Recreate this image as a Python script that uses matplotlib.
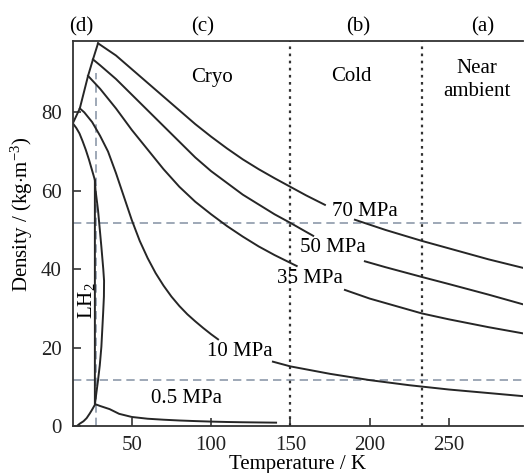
import numpy as np
import matplotlib
matplotlib.use('Agg')
import matplotlib.pyplot as plt

plt.rcParams['font.family'] = ['Liberation Serif', 'DejaVu Serif']
plt.rcParams['mathtext.fontset'] = 'custom'
plt.rcParams['mathtext.rm'] = 'Liberation Serif'
plt.rcParams['mathtext.it'] = 'Liberation Serif:italic'
plt.rcParams['mathtext.default'] = 'rm'

# melting line (left boundary)
melt_T = [12.8, 17.2, 22.4, 25.5, 28.7]
melt_rho = [77.2, 81.0, 89.3, 93.5, 97.6]

# saturation dome (liquid branch down, vapour branch back)
dome_T = [12.8, 15, 17, 19, 21, 23, 24.5, 25.8, 26.7, 27.1, 28.7, 30.8, 32.0, 32.5, 32.4,
          31.9, 30.8, 29.8, 28.7, 27.6, 26.7, 25.0, 23.5, 21.5, 19.5, 17.2, 16.0]
dome_rho = [77.2, 76.0, 74.6, 72.6, 70.4, 67.9, 65.8, 64.0, 62.7, 60.2, 55.0, 45.7, 40.0, 37.0, 33.0,
            28.7, 20.2, 15.5, 11.7, 8.3, 5.4, 4.2, 3.2, 2.0, 1.2, 0.6, 0.2]

# 0.5 MPa isobar
p05_T = [26.7, 26.7, 30, 36, 42, 50, 60, 70, 80, 90, 100, 110, 120, 130, 141]
p05_rho = [62.7, 5.6, 5.1, 4.3, 3.1, 2.3, 1.85, 1.6, 1.4, 1.25, 1.12, 1.02, 0.95, 0.9, 0.85]

# 10 MPa isobar (two pieces around label)
p10_T1 = [17.2, 20, 25, 30, 35, 40, 45, 50, 55, 60, 65, 70, 75, 80, 85, 90, 95, 100, 104.4]
p10_rho1 = [81.0, 80.0, 77.5, 74.0, 70.0, 64.5, 58.5, 52.5, 47.2, 42.8, 39.0, 35.8, 33.0, 30.6,
            28.5, 26.7, 25.0, 23.4, 22.1]
p10_T2 = [139, 150, 175, 200, 225, 250, 275, 297]
p10_rho2 = [16.4, 15.2, 13.3, 11.7, 10.4, 9.3, 8.4, 7.6]

# 35 MPa isobar
p35_T1 = [22.4, 30, 40, 50, 60, 70, 80, 90, 100, 110, 120, 130, 140, 150, 154]
p35_rho1 = [89.3, 86.0, 81.0, 75.5, 70.5, 65.5, 61.0, 57.2, 54.0, 51.0, 48.3, 45.8, 43.6, 41.6, 40.8]
p35_T2 = [184.4, 200, 233, 250, 275, 297]
p35_rho2 = [34.7, 32.5, 28.7, 27.2, 25.2, 23.6]

# 50 MPa isobar
p50_T1 = [25.5, 30, 40, 50, 60, 70, 80, 90, 100, 110, 120, 130, 140, 150, 160, 164.4]
p50_rho1 = [93.5, 92.0, 88.5, 84.5, 80.5, 76.5, 72.5, 68.5, 65.0, 62.0, 59.0, 56.5, 54.0, 51.8,
            49.5, 48.5]
p50_T2 = [197, 210, 233, 250, 275, 297]
p50_rho2 = [42.0, 40.5, 38.0, 36.2, 33.5, 31.0]

# 70 MPa isobar
p70_T1 = [28.7, 40, 50, 60, 70, 80, 90, 100, 110, 120, 130, 140, 150, 160, 171.8]
p70_rho1 = [97.6, 94.5, 91.0, 87.5, 84.0, 80.5, 77.0, 73.8, 70.8, 68.0, 65.5, 63.2, 61.0, 58.8, 56.4]
p70_T2 = [190.7, 210, 233, 250, 275, 297]
p70_rho2 = [52.6, 50.0, 47.2, 45.3, 42.5, 40.3]

region_T = [150, 233]
ref_rho = [51.7, 11.7]
ref_T = 27.3

fig = plt.figure(figsize=(5.24, 4.73), dpi=100)
ax = fig.add_axes([0.139, 0.0994, 0.859, 0.814])

lc = '#262626'
lw = 1.4
dash_c = '#8d9aaa'

for r in ref_rho:
    ax.axhline(r, color=dash_c, lw=1.2, ls=(0, (5, 3)), zorder=1)
ax.plot([ref_T, ref_T], [0, 90], color=dash_c, lw=1.2, ls=(0, (5, 3)), zorder=1)
for t in region_T:
    ax.axvline(t, color='#333333', lw=1.6, ls=(0, (1.2, 2.0)), zorder=1)

ax.plot(melt_T, melt_rho, color=lc, lw=lw)
ax.plot(dome_T, dome_rho, color=lc, lw=lw)
ax.plot(p05_T, p05_rho, color=lc, lw=lw)
for T, rho in [(p10_T1, p10_rho1), (p10_T2, p10_rho2), (p35_T1, p35_rho1), (p35_T2, p35_rho2),
               (p50_T1, p50_rho1), (p50_T2, p50_rho2), (p70_T1, p70_rho1), (p70_T2, p70_rho2)]:
    ax.plot(T, rho, color=lc, lw=lw)

fs = 15
ax.text(197, 54.8, '70 MPa', fontsize=fs, ha='center', va='center')
ax.text(176.8, 45.4, '50 MPa', fontsize=fs, ha='center', va='center')
ax.text(162.3, 37.7, '35 MPa', fontsize=fs, ha='center', va='center')
ax.text(118, 19, '10 MPa', fontsize=fs, ha='center', va='center')
ax.text(84.5, 7.1, '0.5 MPa', fontsize=fs, ha='center', va='center')
ax.text(21.6, 32, 'LH$_2$', fontsize=fs, ha='center', va='center', rotation=90)

ax.text(100.5, 89, 'Cryo', fontsize=fs, ha='center', va='center')
ax.text(188.6, 89.2, 'Cold', fontsize=fs, ha='center', va='center')
ax.text(267.5, 88.2, 'Near\nambient', fontsize=fs, ha='center', va='center', linespacing=1.3)

for lab, t in [('(d)', 18.3), ('(c)', 94.8), ('(b)', 192.6), ('(a)', 271.5)]:
    ax.text(t, 1.036, lab, fontsize=fs, ha='center', va='center',
            transform=ax.get_xaxis_transform())

ax.set_xlim(12.8, 296.7)
ax.set_ylim(0, 98.2)
ax.set_xticks([50, 100, 150, 200, 250])
ax.set_yticks([0, 20, 40, 60, 80])
ax.tick_params(direction='in', length=6, width=1.1, labelsize=fs, colors='#222222')
ax.tick_params(axis='x', pad=7)
ax.tick_params(axis='y', pad=8)
for s in ['left', 'bottom', 'top']:
    ax.spines[s].set_linewidth(1.3)
    ax.spines[s].set_color('#333333')
ax.spines['right'].set_visible(False)

ax.set_xlabel('Temperature / K', fontsize=fs, labelpad=0)
ax.set_ylabel('Density / (kg$\\cdot$m$^{-3}$)', fontsize=fs)
ax.yaxis.set_label_coords(-0.085, 0.55)

fig.savefig('out.png', dpi=100)
